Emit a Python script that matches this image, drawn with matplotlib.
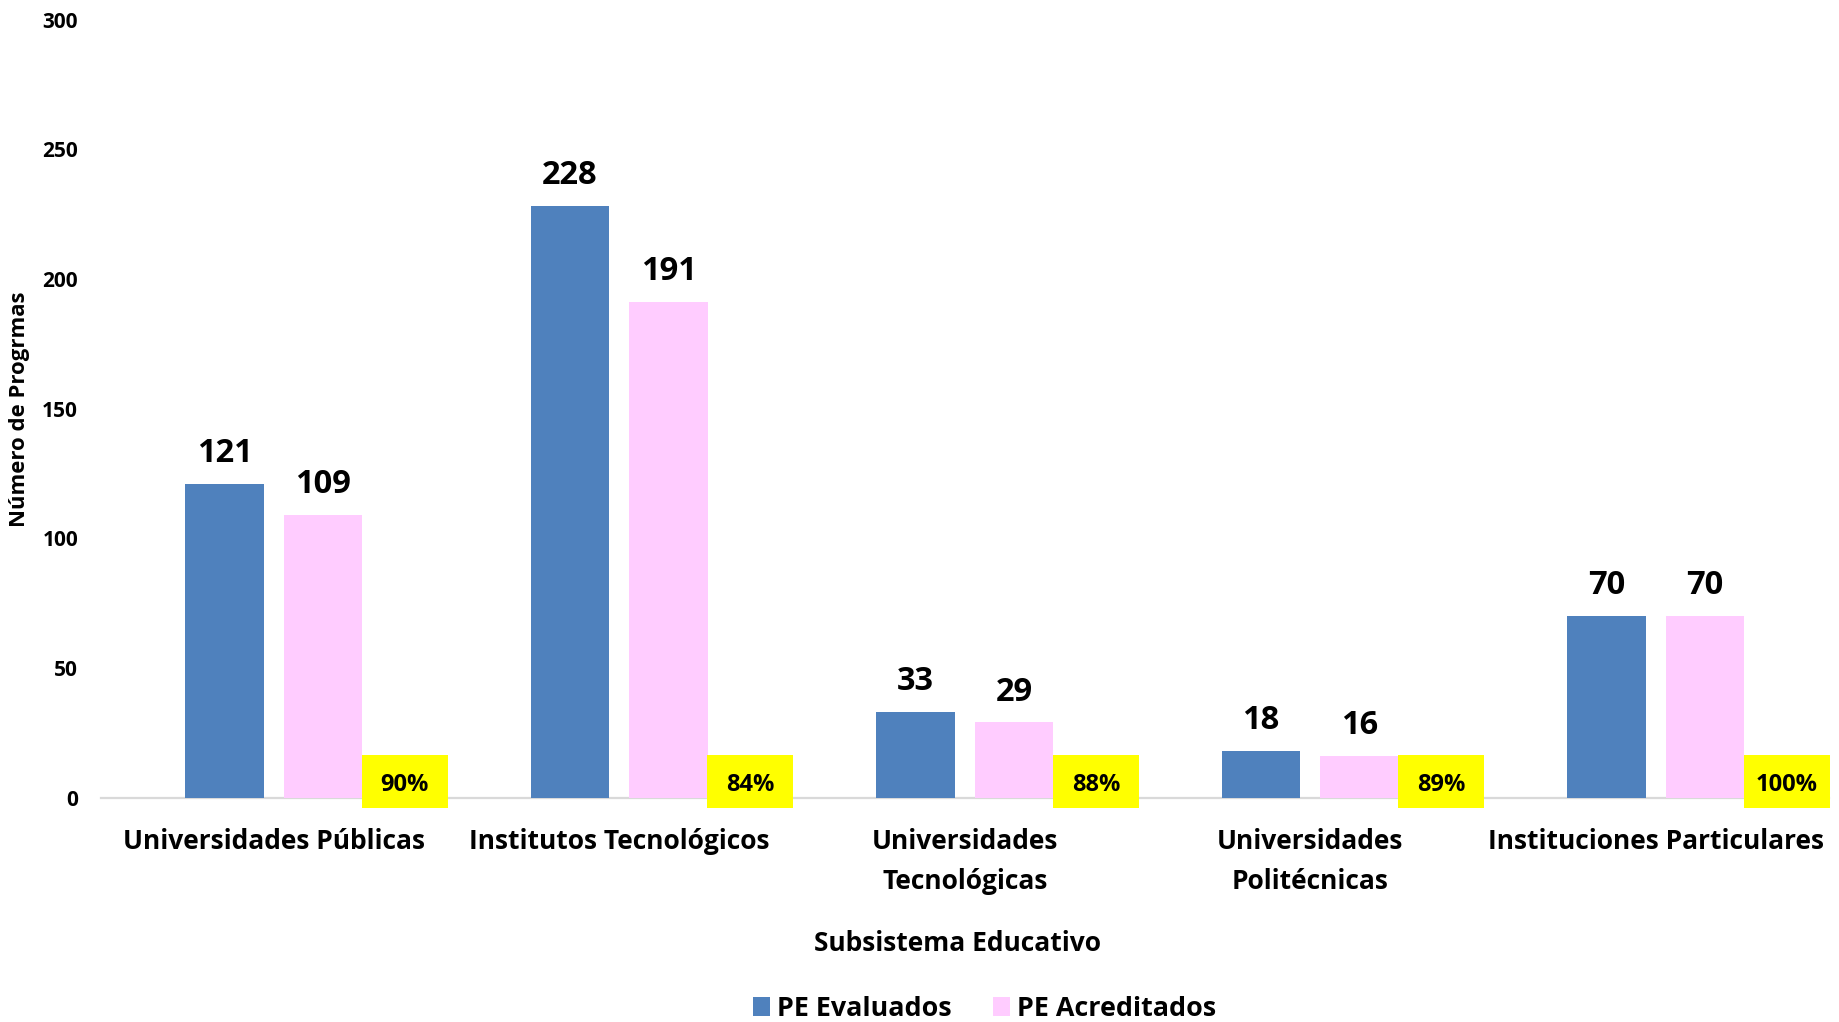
import matplotlib
matplotlib.use("Agg")
import matplotlib.pyplot as plt
import matplotlib.transforms as mtransforms
from matplotlib.patches import Rectangle
import numpy as np

plt.rcParams['font.family'] = ['Open Sans', 'DejaVu Sans']
plt.rcParams['font.weight'] = 'bold'

# ---- data ----
categories = ["Universidades Públicas", "Institutos Tecnológicos",
              "Universidades\nTecnológicas", "Universidades\nPolitécnicas",
              "Instituciones Particulares"]
evaluados = [121, 228, 33, 18, 70]
acreditados = [109, 191, 29, 16, 70]
porcentajes = ["90%", "84%", "88%", "89%", "100%"]
series_names = ["PE Evaluados", "PE Acreditados"]
yticks = [0, 50, 100, 150, 200, 250, 300]
y_label = "Número de Progrmas"
x_label = "Subsistema Educativo"

BLUE = "#4F81BD"
PINK = "#FFCCFF"
YELLOW = "#FFFF00"

fig = plt.figure(figsize=(18.39, 10.22), dpi=100)
ax = fig.add_axes([0.05492, 0.21947, 0.93938, 0.76125])

x = np.arange(len(categories))
bw = 0.227
off = 0.1427
b1 = ax.bar(x - off, evaluados, bw, color=BLUE, linewidth=0, zorder=2, label=series_names[0])
b2 = ax.bar(x + off, acreditados, bw, color=PINK, linewidth=0, zorder=2, label=series_names[1])

for bars, vals in ((b1, evaluados), (b2, acreditados)):
    for r, v in zip(bars, vals):
        ax.annotate(f"{v}", (r.get_x() + r.get_width() / 2, v),
                    xytext=(0, 15.8), textcoords="offset points",
                    ha="center", va="baseline", fontsize=23.5,
                    fontweight="bold", color="black", zorder=4)

# percentage boxes
for i, p in enumerate(porcentajes):
    rect = Rectangle((i + 0.255, -4.0), 0.249, 20.47, facecolor=YELLOW,
                     edgecolor="none", zorder=5, clip_on=False)
    ax.add_patch(rect)
    ax.text(i + 0.255 + 0.249 / 2, 6.2, p, ha="center", va="center_baseline",
            fontsize=17, fontweight="bold", color="black", zorder=6,
            clip_on=False)

ax.set_xlim(-0.5, len(categories) - 0.5)
ax.set_ylim(0, 300)
ax.set_yticks(yticks)
ax.set_yticklabels([str(t) for t in yticks], fontsize=15, fontweight="bold")
ax.tick_params(axis="y", length=0, pad=16.5)
ax.set_xticks([])

for s in ("top", "right", "left"):
    ax.spines[s].set_visible(False)
ax.spines["bottom"].set_color("#D9D9D9")
ax.spines["bottom"].set_linewidth(1.6)
ax.spines["bottom"].set_zorder(1)

# category labels (one text per line, baseline placed)
trans = mtransforms.blended_transform_factory(ax.transData, fig.transFigure)
for i, c in enumerate(categories):
    for k, line in enumerate(c.split("\n")):
        ax.text(i, 1 - (849 + 40 * k) / 1022, line, transform=trans,
                ha="center", va="baseline", fontsize=19, fontweight="bold",
                color="black")

fig.text(957 / 1839, 1 - 951 / 1022, x_label, ha="center", va="baseline",
         fontsize=19, fontweight="bold")
fig.text(19.5 / 1839, 1 - 409 / 1022, y_label, ha="center", va="center",
         rotation=90, fontsize=15.9, fontweight="bold")

fig.legend(handles=[b1, b2], labels=series_names, loc="center",
           bbox_to_anchor=(984.5 / 1839, 1 - 1008.6 / 1022), ncol=2,
           frameon=False, handlelength=0.65, handleheight=0.70,
           handletextpad=0.26, columnspacing=1.52, borderpad=0,
           prop={"weight": "bold", "size": 19.4})

fig.savefig("out.png", dpi=100, facecolor="white")
